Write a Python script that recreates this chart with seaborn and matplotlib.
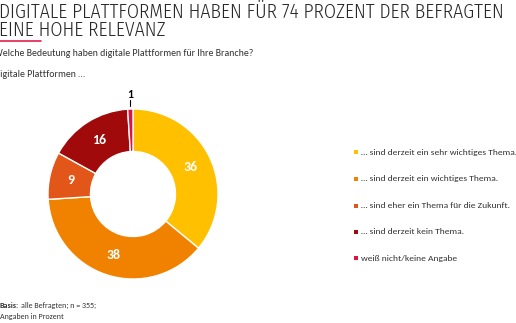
import matplotlib
matplotlib.use("Agg")
import numpy as np
import matplotlib.pyplot as plt
import seaborn as sns
from matplotlib.patches import Rectangle
from matplotlib.lines import Line2D

# Survey answers, clockwise from 12 o'clock
categories = [
    "… sind derzeit ein sehr wichtiges Thema.",
    "… sind derzeit ein wichtiges Thema.",
    "… sind eher ein Thema für die Zukunft.",
    "… sind derzeit kein Thema.",
    "weiß nicht/keine Angabe",
]
values = [36, 38, 9, 16, 1]
colors = ["#FFC000", "#F08200", "#E2561A", "#A00A0A", "#DC1440"]

title_lines = ["DIGITALE PLATTFORMEN HABEN FÜR 74 PROZENT DER BEFRAGTEN",
               "EINE HOHE RELEVANZ"]
question = "Welche Bedeutung haben digitale Plattformen für Ihre Branche?"
lead = "Digitale Plattformen …"
basis = ("Basis:", "alle Befragten; n = 355;")
unit_note = "Angaben in Prozent"

sns.set_theme(style="white")
FONT = ["Carlito", "Lato", "DejaVu Sans"]
TITLE_FONT = ["Fira Sans Condensed", "Barlow Semi Condensed", "Lato", "DejaVu Sans"]
plt.rcParams["font.family"] = FONT

W, H = 516, 323
fig = plt.figure(figsize=(W / 100, H / 100), dpi=100)
fig.patch.set_facecolor("white")
renderer = fig.canvas.get_renderer()


def fx(px):
    return px / W


def fy(py):
    return 1 - py / H


# Title, sized so the first line spans the page width
t1 = fig.text(fx(-1), fy(17.5), title_lines[0], fontsize=14, color="#262626",
              family=TITLE_FONT, fontweight=300, va="baseline", ha="left")
w = t1.get_window_extent(renderer).width
title_size = 14 * 506 / w
t1.set_fontsize(title_size)
fig.text(fx(-1), fy(35.5), title_lines[1], fontsize=title_size, color="#262626",
         family=TITLE_FONT, fontweight=300, va="baseline", ha="left")
fig.add_artist(Line2D([fx(0), fx(41)], [fy(40.5), fy(40.5)], color="#E0204A",
                      lw=1.2, transform=fig.transFigure))

fig.text(fx(-6), fy(56), question, fontsize=7.1, color="#333333",
         va="baseline", ha="left")
fig.text(fx(-6), fy(77), lead, fontsize=7.1, color="#333333",
         va="baseline", ha="left")

# Donut
cx, cy, r = 133, 194, 85
ax = fig.add_axes([fx(cx - r), fy(cy + r), 2 * r / W, 2 * r / H])
wedges, _ = ax.pie(values, colors=colors, startangle=90, counterclock=False,
                   radius=1.0,
                   wedgeprops=dict(width=0.5, edgecolor="white", linewidth=1.0))
ax.set_xlim(-1, 1)
ax.set_ylim(-1, 1)
ax.set_aspect("equal")
ax.axis("off")

cum = np.cumsum([0] + values[:-1])
for v, start in zip(values, cum):
    mid = np.deg2rad(90 - (start + v / 2) / sum(values) * 360)
    if v >= 5:
        ax.text(0.75 * np.cos(mid), 0.75 * np.sin(mid), str(v), color="white",
                fontsize=10, fontweight="bold", ha="center", va="center")
    else:
        x0 = np.cos(mid)
        ax.plot([x0, x0], [1.03, 1.1], color="black", lw=0.8, clip_on=False)
        ax.text(x0, 1.11, str(v), color="black", fontsize=8.5, fontweight="bold",
                ha="center", va="bottom", clip_on=False)

# Legend
rows_y = [152, 179, 206, 232, 258]
for label, col, yy in zip(categories, colors, rows_y):
    fig.add_artist(Rectangle((fx(354), fy(yy + 2)), 4 / W, 4 / H,
                             facecolor=col, edgecolor="none",
                             transform=fig.transFigure))
    fig.text(fx(361), fy(yy), label, fontsize=6.8, color="#333333",
             va="center", ha="left")

# Footnote
b = fig.text(fx(0), fy(308), basis[0], fontsize=5.8, fontweight="bold",
             color="#333333", va="baseline", ha="left")
bx = b.get_window_extent(renderer).x1
fig.text(fx(bx + 1.5), fy(308), basis[1], fontsize=5.8, color="#333333",
         va="baseline", ha="left")
fig.text(fx(0), fy(319), unit_note, fontsize=5.8, color="#333333",
         va="baseline", ha="left")

fig.savefig("out.png", dpi=100)
